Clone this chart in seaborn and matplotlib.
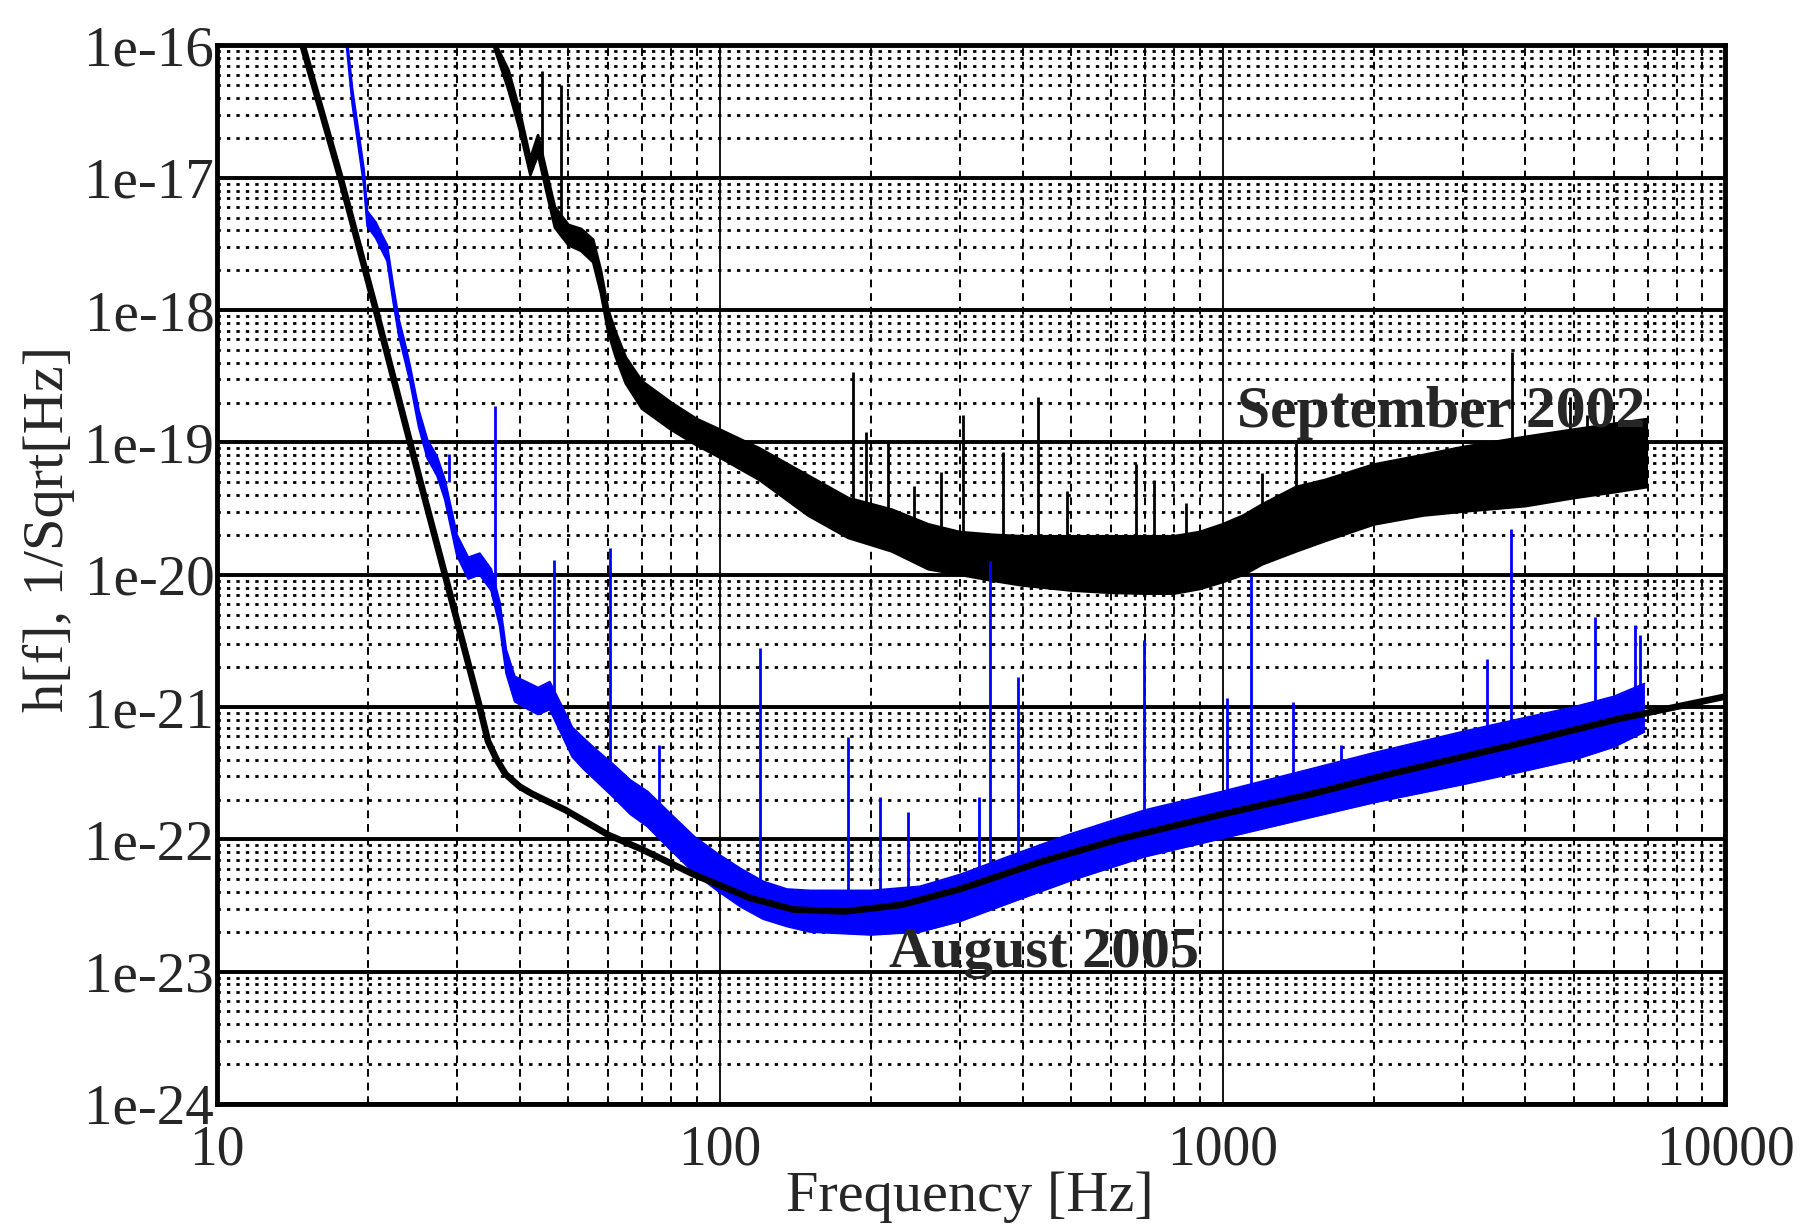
import numpy as np
import seaborn as sns
import matplotlib
matplotlib.use("Agg")
import matplotlib.pyplot as plt
from matplotlib.ticker import LogLocator, FixedLocator, NullFormatter

# design sensitivity (smooth black curve)
design_f = [14.8, 17.6, 20.7, 24.2, 28.4, 33.3, 34.6, 36, 37.5, 40, 42.4, 49.4, 60, 70, 89, 115,
            140, 177, 230, 300, 437, 620, 1000, 1500, 2140, 3650, 6190, 10000]
design_h = [1.0e-16, 1.0e-17, 1.0e-18, 1.0e-19, 1.0e-20, 1.0e-21, 5.5e-22, 4.0e-22, 3.1e-22,
            2.5e-22, 2.2e-22, 1.66e-22, 1.08e-22, 8.4e-23, 5.4e-23, 3.6e-23, 2.95e-23, 2.85e-23,
            3.2e-23, 4.2e-23, 6.8e-23, 1.0e-22, 1.55e-22, 2.2e-22, 3.1e-22, 5.0e-22, 8.2e-22,
            1.2e-21]

# September 2002 noise band (upper / lower envelope)
sep_f = [35.5, 38, 40, 42, 43.5, 45, 47, 50, 53, 56, 58, 60, 62, 65, 70, 80, 90, 100, 120, 150,
         180, 220, 260, 300, 350, 400, 500, 600, 700, 800, 900, 1000, 1100, 1200, 1400, 1600,
         2000, 2500, 3000, 4000, 5000, 6000, 7000]
sep_hi = [1.1e-16, 6.5e-17, 3.2e-17, 1.4e-17, 2.1e-17, 1.2e-17, 6.0e-18, 4.4e-18, 4.1e-18,
          3.4e-18, 2.0e-18, 1.0e-18, 6.9e-19, 4.4e-19, 2.9e-19, 2.0e-19, 1.5e-19, 1.25e-19,
          9.0e-20, 5.6e-20, 3.8e-20, 3.1e-20, 2.4e-20, 2.1e-20, 2.0e-20, 1.95e-20, 1.95e-20,
          1.95e-20, 1.95e-20, 1.95e-20, 2.1e-20, 2.4e-20, 2.8e-20, 3.4e-20, 4.6e-20, 5.2e-20,
          6.8e-20, 8.0e-20, 9.2e-20, 1.1e-19, 1.25e-19, 1.38e-19, 1.5e-19]
sep_lo = [1.0e-16, 4.6e-17, 2.3e-17, 1.05e-17, 1.5e-17, 8.5e-18, 4.2e-18, 3.1e-18, 2.8e-18,
          2.3e-18, 1.35e-18, 6.8e-19, 4.5e-19, 2.8e-19, 1.8e-19, 1.25e-19, 9.5e-20, 7.7e-20,
          5.2e-20, 2.8e-20, 1.9e-20, 1.5e-20, 1.1e-20, 1.0e-20, 9.0e-21, 8.3e-21, 7.6e-21,
          7.3e-21, 7.2e-21, 7.2e-21, 7.8e-21, 8.8e-21, 1.0e-20, 1.2e-20, 1.5e-20, 1.8e-20,
          2.4e-20, 2.8e-20, 3.0e-20, 3.3e-20, 3.8e-20, 4.2e-20, 4.6e-20]
sep_spike_f = [44.3, 48.3, 184, 195, 216, 243, 275, 305, 365, 430, 490, 673, 730, 845, 1200,
               1400, 3760, 4900, 5300, 6300]
sep_spike_top = [6.4e-17, 5e-17, 3.4e-19, 1.2e-19, 1.0e-19, 4.7e-20, 6e-20, 1.6e-19, 8.4e-20,
                 2.2e-19, 4.3e-20, 6.9e-20, 5.2e-20, 3.5e-20, 5.9e-20, 1.03e-19, 4.8e-19,
                 2.2e-19, 1.6e-19, 1.3e-19]
sep_spike_base = [1.3e-17, 4.5e-18, 2.7e-20, 2.5e-20, 2.2e-20, 1.8e-20, 1.5e-20, 1.3e-20,
                  1.2e-20, 1.15e-20, 1.1e-20, 1.07e-20, 1.07e-20, 1.1e-20, 2.0e-20, 2.4e-20,
                  6.5e-20, 7.5e-20, 8e-20, 8.5e-20]

# August 2005 noise band
aug_f = [18.1, 18.6, 19.1, 19.6, 19.9, 20.7, 21.2, 21.8, 22.4, 23.0, 23.6, 24.2, 25.2, 26.2,
         27.4, 28.4, 30.0, 31.6, 33.3, 35.1, 36.5, 37.6, 39.1, 41.2, 43.5, 45.9, 48.3, 50.9,
         53.6, 56.6, 61.3, 66.4, 71.8, 79.9, 88.9, 98.9, 110, 122, 136, 151, 200, 250, 300,
         400, 500, 700, 1000, 1500, 2000, 3000, 4000, 5000, 6000, 6900]
aug_hi = [1.2e-16, 4.6e-17, 2.3e-17, 1.15e-17, 5.6e-18, 4.6e-18, 3.8e-18, 3.1e-18, 1.55e-18,
          8.5e-19, 5.8e-19, 3.8e-19, 1.75e-19, 1.05e-19, 7.8e-20, 5.2e-20, 2.0e-20, 1.35e-20,
          1.45e-20, 1.1e-20, 6.2e-21, 2.7e-21, 1.7e-21, 1.55e-21, 1.4e-21, 1.55e-21, 1.05e-21,
          7.0e-22, 5.8e-22, 4.8e-22, 3.7e-22, 2.8e-22, 2.3e-22, 1.55e-22, 1.05e-22, 7.8e-23,
          6.0e-23, 4.8e-23, 4.2e-23, 4.1e-23, 4.1e-23, 4.4e-23, 5.4e-23, 8.1e-23, 1.1e-22,
          1.66e-22, 2.3e-22, 3.4e-22, 4.5e-22, 6.5e-22, 8.3e-22, 1.0e-21, 1.2e-21, 1.5e-21]
aug_lo = [1.0e-16, 3.5e-17, 1.75e-17, 8.7e-18, 4.3e-18, 3.5e-18, 2.9e-18, 2.35e-18, 1.17e-18,
          6.4e-19, 4.3e-19, 2.9e-19, 1.3e-19, 7.6e-20, 5.6e-20, 3.7e-20, 1.4e-20, 9.3e-21,
          1.0e-20, 7.6e-21, 4.1e-21, 1.8e-21, 1.1e-21, 9.8e-22, 8.8e-22, 9.6e-22, 6.4e-22,
          4.2e-22, 3.4e-22, 2.8e-22, 2.1e-22, 1.55e-22, 1.25e-22, 8.3e-23, 5.6e-23, 4.1e-23,
          3.1e-23, 2.5e-23, 2.2e-23, 2.0e-23, 1.9e-23, 2.0e-23, 2.4e-23, 3.6e-23, 4.9e-23,
          7.4e-23, 1.02e-22, 1.47e-22, 1.9e-22, 2.6e-22, 3.3e-22, 4.0e-22, 5.0e-22, 6.5e-22]
aug_spike_f = [28.9, 35.7, 46.8, 60.6, 75.6, 120, 180, 208, 237, 328, 344, 392, 697, 1020, 1140,
               1380, 1720, 3350, 3750, 5500, 6600, 6750]
aug_spike_top = [8.2e-20, 1.9e-19, 1.3e-20, 1.6e-20, 5.2e-22, 2.8e-21, 5.9e-22, 2.1e-22, 1.6e-22,
                 2.1e-22, 1.26e-20, 1.7e-21, 3.2e-21, 1.17e-21, 9.8e-21, 1.1e-21, 5.2e-22,
                 2.3e-21, 2.2e-20, 4.8e-21, 4.2e-21, 3.5e-21]
aug_spike_base = [5e-20, 8e-21, 1.1e-21, 3.0e-22, 1.2e-22, 4.2e-23, 2.9e-23, 3e-23, 3.2e-23,
                  4.5e-23, 4.8e-23, 6e-23, 1.2e-22, 1.6e-22, 1.7e-22, 2.1e-22, 2.6e-22, 5e-22,
                  5.5e-22, 8e-22, 9e-22, 9e-22]

x_ticks = [10, 100, 1000, 10000]
x_labels = ["10", "100", "1000", "10000"]
y_ticks = [1e-24, 1e-23, 1e-22, 1e-21, 1e-20, 1e-19, 1e-18, 1e-17, 1e-16]
y_labels = ["1e-24", "1e-23", "1e-22", "1e-21", "1e-20", "1e-19", "1e-18", "1e-17", "1e-16"]

sns.set_style("white")
plt.rcParams["font.family"] = ["Liberation Serif", "DejaVu Serif"]

fig = plt.figure(figsize=(18.13, 12.28), dpi=100)
ax = fig.add_axes([0.1197, 0.101, 0.832, 0.862])
ax.set_xscale("log")
ax.set_yscale("log")
ax.set_xlim(10, 10000)
ax.set_ylim(1e-24, 1e-16)

# grid like the old plotting package
ax.set_axisbelow(True)
ax.xaxis.set_major_locator(FixedLocator(x_ticks))
ax.yaxis.set_major_locator(FixedLocator(y_ticks))
ax.xaxis.set_minor_locator(LogLocator(base=10, subs=np.arange(2, 10), numticks=50))
ax.yaxis.set_minor_locator(LogLocator(base=10, subs=np.arange(2, 10), numticks=50))
ax.xaxis.set_minor_formatter(NullFormatter())
ax.yaxis.set_minor_formatter(NullFormatter())
ax.grid(True, which="major", axis="y", color="black", lw=2.8, ls="-")
ax.grid(True, which="major", axis="x", color="black", lw=1.3, ls="-")
ax.grid(True, which="minor", axis="x", color="black", lw=1.4, ls=(0, (4, 3)))
ax.grid(True, which="minor", axis="y", color="black", lw=2.0, ls=(0, (1.2, 2.2)))

ax.set_xticklabels(x_labels, fontsize=40)
ax.set_yticklabels(y_labels, fontsize=41)
ax.tick_params(which="both", length=0)
ax.tick_params(axis="x", pad=15)
ax.tick_params(axis="y", pad=2)
for s in ax.spines.values():
    s.set_color("black")
    s.set_linewidth(3.5)

# September 2002
ax.fill_between(sep_f, sep_lo, sep_hi, color="black", lw=0)
sns.lineplot(x=sep_f, y=sep_hi, color="black", lw=2, sort=False, estimator=None, ax=ax)
sns.lineplot(x=sep_f, y=sep_lo, color="black", lw=2, sort=False, estimator=None, ax=ax)
ax.vlines(sep_spike_f, sep_spike_base, sep_spike_top, color="black", lw=2)

# August 2005
ax.fill_between(aug_f, aug_lo, aug_hi, color="#0000ff", lw=0)
sns.lineplot(x=aug_f, y=aug_hi, color="#0000ff", lw=1.5, sort=False, estimator=None, ax=ax)
sns.lineplot(x=aug_f, y=aug_lo, color="#0000ff", lw=1.5, sort=False, estimator=None, ax=ax)
ax.vlines(aug_spike_f, aug_spike_base, aug_spike_top, color="#0000ff", lw=2)

# design curve
sns.lineplot(x=design_f, y=design_h, color="black", lw=4.8, sort=False, estimator=None, ax=ax)

ax.text(2720, 1.67e-19, "September 2002", fontsize=43, fontweight="bold",
        ha="center", va="center")
ax.text(442, 1.39e-23, "August 2005", fontsize=42, fontweight="bold",
        ha="center", va="center")

ax.set_xlabel("")
ax.set_ylabel("")
fig.text(0.535, 0.025, "Frequency [Hz]", fontsize=42, ha="center", va="center")
fig.text(0.027, 0.569, "h[f], 1/Sqrt[Hz]", fontsize=42, rotation=90, ha="center", va="center")

fig.savefig("out.png", dpi=100)
